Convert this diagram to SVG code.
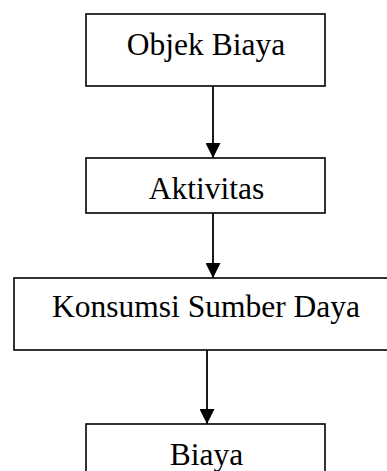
<svg xmlns="http://www.w3.org/2000/svg" width="387" height="471" viewBox="0 0 387 471">
<style>
.box{fill:#fff;stroke:#000;stroke-width:1.6}
.lbl{font-family:"Liberation Serif","Times New Roman",serif;font-size:31.5px;fill:#000;text-anchor:middle}
.edge{stroke:#000;stroke-width:1.8;fill:none}
</style>
<defs>
<marker id="ah" markerWidth="15" markerHeight="15" refX="15" refY="7.5" orient="auto" markerUnits="userSpaceOnUse">
<path d="M0,0 L15,7.5 L0,15 Z" fill="#000"/>
</marker>
</defs>
<rect width="387" height="471" fill="#fff"/>
<g id="node-objek">
<rect class="box" x="86" y="14" width="239" height="72"/>
<text class="lbl" x="206" y="55">Objek Biaya</text>
</g>
<g id="node-aktivitas">
<rect class="box" x="86" y="158" width="239" height="55"/>
<text class="lbl" x="206.5" y="199">Aktivitas</text>
</g>
<g id="node-konsumsi">
<rect class="box" x="14" y="278" width="384" height="72"/>
<text class="lbl" x="206" y="317">Konsumsi Sumber Daya</text>
</g>
<g id="node-biaya">
<rect class="box" x="86" y="424" width="239" height="60"/>
<text class="lbl" x="206.5" y="465">Biaya</text>
</g>
<g id="connectors">
<line class="edge" x1="213" y1="86" x2="213" y2="158" marker-end="url(#ah)"/>
<line class="edge" x1="213" y1="213" x2="213" y2="278" marker-end="url(#ah)"/>
<line class="edge" x1="207" y1="350" x2="207" y2="424" marker-end="url(#ah)"/>
</g>
</svg>
